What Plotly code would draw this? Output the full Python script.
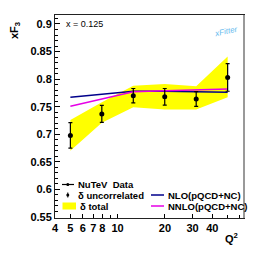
import plotly.graph_objects as go

# ---- data ----
q2 = [5.01, 7.94, 12.59, 19.95, 31.62, 50.12]
xf3 = [0.698, 0.737, 0.770, 0.768, 0.764, 0.803]
err_uncorr = [0.023, 0.0155, 0.013, 0.015, 0.0135, 0.025]
band_top = [0.726, 0.758, 0.788, 0.791, 0.787, 0.841]
band_bottom = [0.670, 0.721, 0.749, 0.745, 0.745, 0.767]
nlo = [0.767, 0.773, 0.778, 0.778, 0.777, 0.776]
nnlo = [0.751, 0.764, 0.777, 0.779, 0.781, 0.782]

x_tickvals = [4, 5, 6, 7, 8, 10, 20, 30, 40]
x_ticktext = ["4", "5", "6", "7", "8", "10", "20", "30", "40"]
x_minor = [9, 50, 60]
y_tickvals = [0.55, 0.6, 0.65, 0.7, 0.75, 0.8, 0.85, 0.9]
y_ticktext = ["0.55", "0.6", "0.65", "0.7", "0.75", "0.8", "0.85", "0.9"]

# page has an 8px body margin; figure is drawn offset by it
OFF = 8
W, H = 266 - 2 * OFF, 254 - 2 * OFF
L, R, T, B = 55, 244, 15, 218  # plot area in page px


def px(x):
    return (x - L) / (R - L)


def py(y):
    return (B - y) / (B - T)


FONT = "Liberation Sans, Arial, sans-serif"
YELLOW = "#ffff00"
BLUE = "#00008b"
MAGENTA = "#e600e6"

fig = go.Figure()

fig.add_trace(go.Scatter(x=q2, y=band_bottom, mode="lines", line=dict(width=0),
                         showlegend=False, hoverinfo="skip"))
fig.add_trace(go.Scatter(x=q2, y=band_top, mode="lines", line=dict(width=0),
                         fill="tonexty", fillcolor=YELLOW, name="δ total",
                         showlegend=False))
fig.add_trace(go.Scatter(x=q2, y=nlo, mode="lines", line=dict(color=BLUE, width=1.5),
                         name="NLO(pQCD+NC)", showlegend=False))
fig.add_trace(go.Scatter(x=q2, y=nnlo, mode="lines", line=dict(color=MAGENTA, width=1.5),
                         name="NNLO(pQCD+NC)", showlegend=False))
fig.add_trace(go.Scatter(x=q2, y=xf3, mode="markers",
                         marker=dict(color="black", size=5),
                         error_y=dict(type="data", array=err_uncorr, color="black",
                                      thickness=1.2, width=2),
                         name="NuTeV Data", showlegend=False))

shapes = []
annotations = []

# right gray frame border
shapes.append(dict(type="line", xref="paper", yref="paper", x0=1, x1=1, y0=0, y1=1,
                   line=dict(color="#999999", width=2)))

# manual legend (compact like ROOT)
leg_font = dict(family=FONT, size=9.5, color="black", weight="bold")
rows = [184.5, 195, 206]
# NuTeV Data: line + dot
shapes.append(dict(type="line", xref="paper", yref="paper", x0=px(62), x1=px(74),
                   y0=py(rows[0]), y1=py(rows[0]), line=dict(color="black", width=1.2)))
shapes.append(dict(type="circle", xref="paper", yref="paper", x0=px(66.3), x1=px(69.3),
                   y0=py(rows[0] + 1.5), y1=py(rows[0] - 1.5),
                   fillcolor="black", line=dict(color="black", width=0)))
# δ uncorrelated: dot with tiny bar
shapes.append(dict(type="line", xref="paper", yref="paper", x0=px(67.8), x1=px(67.8),
                   y0=py(rows[1] + 2.5), y1=py(rows[1] - 2.5), line=dict(color="black", width=1)))
shapes.append(dict(type="circle", xref="paper", yref="paper", x0=px(66.3), x1=px(69.3),
                   y0=py(rows[1] + 1.5), y1=py(rows[1] - 1.5),
                   fillcolor="black", line=dict(color="black", width=0)))
# δ total: yellow box
shapes.append(dict(type="rect", xref="paper", yref="paper", x0=px(62.5), x1=px(76),
                   y0=py(rows[2] + 3.5), y1=py(rows[2] - 3.5),
                   fillcolor=YELLOW, line=dict(width=0)))
# NLO / NNLO lines
shapes.append(dict(type="line", xref="paper", yref="paper", x0=px(151), x1=px(164),
                   y0=py(rows[1]), y1=py(rows[1]), line=dict(color=BLUE, width=1.5)))
shapes.append(dict(type="line", xref="paper", yref="paper", x0=px(151), x1=px(164),
                   y0=py(rows[2]), y1=py(rows[2]), line=dict(color=MAGENTA, width=1.5)))

for txt, xx, yy in [("NuTeV  Data", 76, rows[0]), ("δ uncorrelated", 76, rows[1]),
                    ("δ total", 78, rows[2]), ("NLO(pQCD+NC)", 165.5, rows[1]),
                    ("NNLO(pQCD+NC)", 165.5, rows[2])]:
    annotations.append(dict(text=txt, xref="paper", yref="paper", x=px(xx), y=py(yy),
                            xanchor="left", yanchor="middle", showarrow=False,
                            font=leg_font))

# x = 0.125 label
annotations.append(dict(text="x = 0.125", xref="paper", yref="paper", x=px(64), y=py(24),
                        xanchor="left", yanchor="middle", showarrow=False,
                        font=dict(family=FONT, size=9, color="black")))
# xFitter logo text
annotations.append(dict(text="xFitter", xref="paper", yref="paper", x=px(226), y=py(31),
                        xanchor="center", yanchor="middle", showarrow=False, textangle=-12,
                        font=dict(family=FONT, size=8, color="#66bbee", style="italic")))
# axis titles
annotations.append(dict(text="xF<sub>3</sub>", xref="paper", yref="paper", x=px(15), y=py(31),
                        xanchor="center", yanchor="middle", showarrow=False, textangle=-90,
                        font=dict(family=FONT, size=11, color="black", weight="bold")))
annotations.append(dict(text="Q<sup>2</sup>", xref="paper", yref="paper", x=px(231), y=py(238),
                        xanchor="center", yanchor="middle", showarrow=False,
                        font=dict(family=FONT, size=11, color="black", weight="bold")))

fig.update_layout(
    width=W, height=H,
    margin=dict(l=L - OFF, r=W - (R - OFF), t=T - OFF, b=H - (B - OFF), pad=0),
    paper_bgcolor="white", plot_bgcolor="white",
    showlegend=False,
    shapes=shapes, annotations=annotations,
    font=dict(family=FONT, size=11, color="black"),
)

fig.update_xaxes(type="log", range=[0.60206, 1.804], showgrid=False, zeroline=False,
                 showline=True, linecolor="#222222", linewidth=1, mirror=True,
                 ticks="inside", ticklen=4, tickcolor="black",
                 tickvals=x_tickvals, ticktext=x_ticktext,
                 tickfont=dict(family=FONT, size=11, weight="bold"),
                 minor=dict(tickvals=x_minor, ticks="inside", ticklen=3, tickcolor="black"))
fig.update_yaxes(range=[0.5482, 0.9163], showgrid=False, zeroline=False,
                 showline=True, linecolor="#222222", linewidth=1, mirror=True,
                 ticks="inside", ticklen=5, tickcolor="black",
                 tickvals=y_tickvals, ticktext=y_ticktext,
                 tickfont=dict(family=FONT, size=11, weight="bold"),
                 minor=dict(dtick=0.01, ticks="inside", ticklen=2.5, tickcolor="black"))

fig.write_html("out.html")
